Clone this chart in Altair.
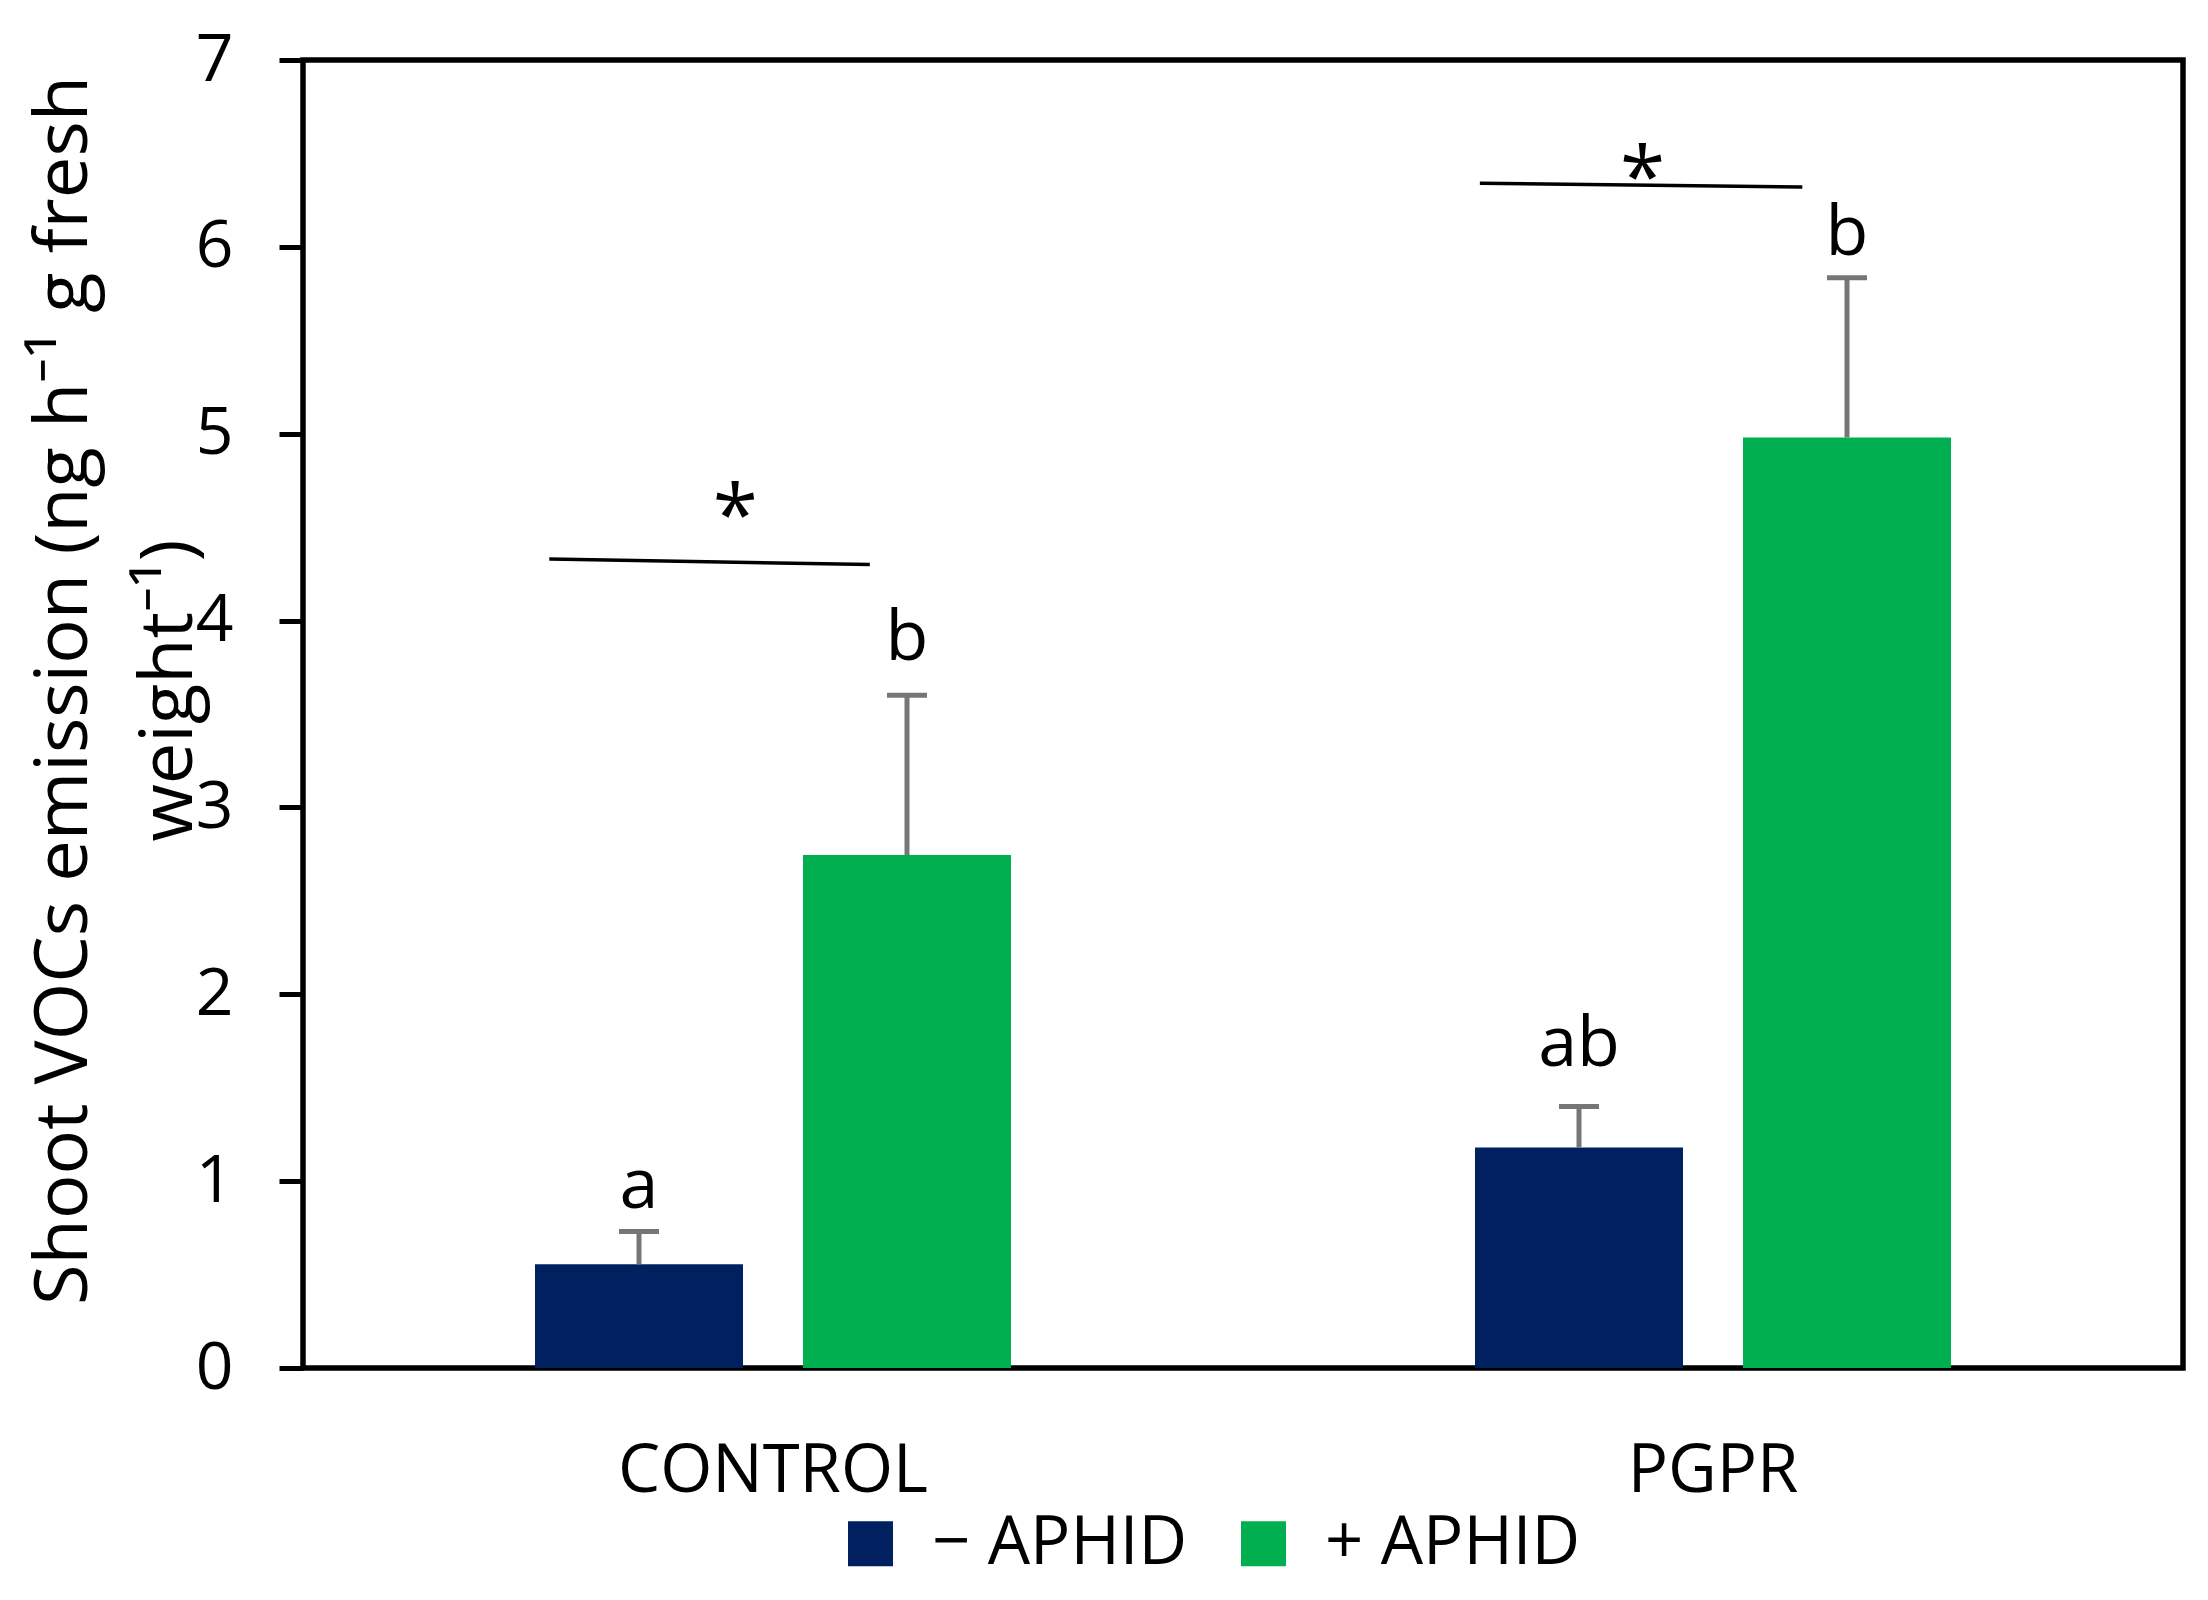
import altair as alt
import pandas as pd

# ---- data ----
groups = ["CONTROL", "PGPR"]
series = ["− APHID", "+ APHID"]
means_minus = [0.555, 1.18]
means_plus = [2.745, 4.98]
se_minus = [0.175, 0.22]
se_plus = [0.855, 0.855]
letters_minus = ["a", "ab"]
letters_plus = ["b", "b"]
letter_y_minus = [0.856, 1.615]
letter_y_plus = [3.79, 5.955]
sig_y_start = [4.33, 6.34]
sig_y_end = [4.30, 6.32]
star_y = [4.41, 6.22]
y_ticks = [0, 1, 2, 3, 4, 5, 6, 7]

# where, across each group's band, the bracket starts/ends and the star sits
sig_band_start = [0.262, 0.252]
sig_band_end = [0.603, 0.595]
star_band = [0.46, 0.425]

NAVY = "#002060"
GREEN = "#00B050"
GRAY = "#767676"
FONT = "Open Sans"
Y_TITLE = ["Shoot VOCs emission (ng h⁻¹ g fresh", "weight⁻¹)"]

rows = []
for i, g in enumerate(groups):
    rows.append(dict(group=g, series=series[0], mean=means_minus[i],
                     top=means_minus[i] + se_minus[i], letter=letters_minus[i],
                     ly=letter_y_minus[i]))
    rows.append(dict(group=g, series=series[1], mean=means_plus[i],
                     top=means_plus[i] + se_plus[i], letter=letters_plus[i],
                     ly=letter_y_plus[i]))
df = pd.DataFrame(rows)

sig = pd.DataFrame(dict(group=groups, y1=sig_y_start, y2=sig_y_end,
                        sy=star_y, star=["*", "*"]))

xscale = alt.Scale(paddingInner=0, paddingOuter=0)
yscale = alt.Scale(domain=[0, 7], nice=False)
xo = alt.XOffset("series:N", sort=series,
                 scale=alt.Scale(paddingInner=0.2239, paddingOuter=0.8657))

x_axis = alt.Axis(title=None, ticks=False, tickSize=0, domain=False, grid=False,
                  labelAngle=0, labelFont=FONT, labelFontSize=67,
                  labelColor="black", labelPadding=70, labelLimit=1000)
y_axis = alt.Axis(title=Y_TITLE, values=y_ticks, format="d", domain=False,
                  grid=False, ticks=True, tickSize=24, tickWidth=5,
                  tickColor="black",
                  labelFont=FONT, labelFontSize=66, labelColor="black",
                  labelPadding=46,
                  titleFont=FONT, titleFontSize=74, titleFontWeight="normal",
                  titleColor="black", titleX=-217, titleY=630,
                  titleAngle=-90, titleAlign="center",
                  titleBaseline="alphabetic", titleLineHeight=105)

X = alt.X("group:N", sort=groups, scale=xscale, axis=x_axis)

bars = alt.Chart(df).mark_bar().encode(
    x=X,
    xOffset=xo,
    y=alt.Y("mean:Q", scale=yscale, axis=y_axis, title=Y_TITLE),
    color=alt.Color("series:N", sort=series,
                    scale=alt.Scale(domain=series, range=[NAVY, GREEN]),
                    legend=alt.Legend(title=None, orient="none", legendX=534,
                                      legendY=1450, direction="horizontal",
                                      symbolType="square", symbolSize=2025,
                                      symbolStrokeWidth=0, symbolOpacity=1,
                                      labelFont=FONT, labelFontSize=67,
                                      labelColor="black", labelOffset=28,
                                      labelLimit=1000,
                                      columnPadding=42, padding=0)),
)

stems = alt.Chart(df).mark_rule(color=GRAY, strokeWidth=5).encode(
    x=X, xOffset=xo,
    y=alt.Y("mean:Q", scale=yscale, title=Y_TITLE),
    y2="top:Q",
)

caps = alt.Chart(df).mark_tick(color=GRAY, thickness=5, size=40,
                               orient="horizontal", opacity=1).encode(
    x=X, xOffset=xo,
    y=alt.Y("top:Q", scale=yscale, title=Y_TITLE),
)

letters = alt.Chart(df).mark_text(font=FONT, fontSize=70, color="black",
                                  baseline="alphabetic", align="center").encode(
    x=X, xOffset=xo,
    y=alt.Y("ly:Q", scale=yscale, title=Y_TITLE),
    text="letter:N",
)

layers = [bars, stems, caps, letters]
for i, g in enumerate(groups):
    base = alt.Chart(sig).transform_filter(alt.datum.group == g)
    layers.append(base.mark_rule(color="black", strokeWidth=3.5).encode(
        x=alt.X("group:N", sort=groups, scale=xscale,
                bandPosition=sig_band_start[i]),
        x2=alt.X2(field="group", bandPosition=sig_band_end[i]),
        y=alt.Y("y1:Q", scale=yscale, title=Y_TITLE),
        y2=alt.Y2(field="y2"),
    ))
    layers.append(base.mark_text(font=FONT, fontSize=82, color="black",
                                 baseline="alphabetic", align="center").encode(
        x=alt.X("group:N", sort=groups, scale=xscale,
                bandPosition=star_band[i]),
        y=alt.Y("sy:Q", scale=yscale, title=Y_TITLE),
        text="star:N",
    ))

chart = alt.layer(*layers).properties(
    width=1880, height=1308,
    autosize=alt.AutoSizeParams(type="none"),
    padding={"left": 295, "top": 52, "right": 17, "bottom": 224},
    background="white",
).configure_view(
    stroke="black", strokeWidth=5.5
)

chart.save("out.html", embed_options={"renderer": "svg", "actions": False})
